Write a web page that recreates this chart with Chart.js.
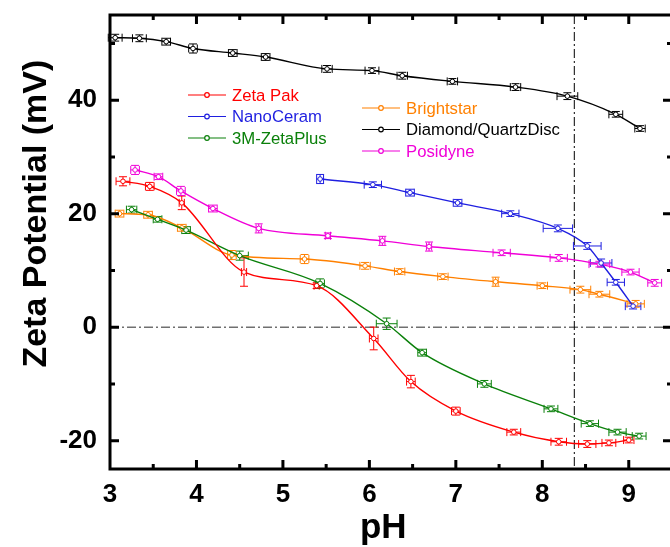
<!DOCTYPE html>
<html>
<head>
<meta charset="utf-8">
<script src="https://cdn.jsdelivr.net/npm/chart.js@4.4.0/dist/chart.umd.min.js"></script>
<style>
html, body { margin: 0; padding: 0; background: #fff; overflow: hidden; width: 670px; height: 547px; }
#wrap { width: 680px; height: 547px; }
</style>
</head>
<body>
<div id="wrap"><canvas id="zetaChart" width="680" height="547"></canvas></div>
<script>
const FONT = '"Liberation Sans", Arial, sans-serif'

const xTicks = [3, 4, 5, 6, 7, 8, 9]
const yTicks = [-20, 0, 20, 40]

// Zeta Pak
const zetaPakPH = [3.15, 3.46, 3.83, 4.55, 5.39, 6.05, 6.48, 7.0, 7.67, 8.19, 8.52, 8.77, 9.0]
const zetaPakMV = [25.7, 24.8, 21.9, 9.7, 7.3, -2.0, -9.6, -14.8, -18.5, -20.2, -20.6, -20.4, -19.9]
const zetaPakPHErr = [0.08, 0.05, 0.03, 0.03, 0.03, 0.05, 0.05, 0.05, 0.08, 0.09, 0.1, 0.08, 0.06]
const zetaPakMVErr = [0.8, 0.7, 1.2, 2.5, 0.5, 2.0, 1.1, 0.7, 0.5, 0.6, 0.6, 0.5, 0.5]

// NanoCeram
const nanoPH = [5.43, 6.04, 6.47, 7.02, 7.63, 8.18, 8.52, 8.68, 8.85, 9.05]
const nanoMV = [26.1, 25.1, 23.7, 21.9, 20.0, 17.4, 14.3, 11.3, 7.9, 3.7]
const nanoPHErr = [0.04, 0.1, 0.05, 0.05, 0.1, 0.17, 0.16, 0.125, 0.1, 0.09]
const nanoMVErr = [0.8, 0.5, 0.6, 0.6, 0.5, 0.6, 0.6, 0.7, 0.5, 0.5]

// 3M-ZetaPlus
const zetaPlusPH = [3.25, 3.55, 3.88, 4.5, 5.43, 6.2, 6.61, 7.33, 8.1, 8.55, 8.87, 9.12]
const zetaPlusMV = [20.7, 19.0, 17.1, 12.6, 7.7, 0.6, -4.5, -10.0, -14.4, -17.0, -18.5, -19.2]
const zetaPlusPHErr = [0.06, 0.05, 0.05, 0.1, 0.05, 0.12, 0.05, 0.08, 0.08, 0.1, 0.1, 0.08]
const zetaPlusMVErr = [0.6, 0.5, 0.6, 0.8, 0.8, 1.0, 0.6, 0.6, 0.5, 0.5, 0.5, 0.5]

// Brightstar
const brightPH = [3.11, 3.44, 3.83, 4.41, 5.25, 5.95, 6.35, 6.85, 7.46, 8.0, 8.44, 8.66, 9.08]
const brightMV = [20.0, 19.8, 17.5, 12.7, 12.0, 10.8, 9.8, 8.9, 8.0, 7.3, 6.6, 5.8, 4.1]
const brightPHErr = [0.05, 0.05, 0.05, 0.05, 0.05, 0.06, 0.06, 0.06, 0.03, 0.06, 0.12, 0.12, 0.1]
const brightMVErr = [0.6, 0.6, 0.6, 0.8, 0.8, 0.6, 0.5, 0.5, 0.8, 0.5, 0.6, 0.5, 0.6]

// Diamond/QuartzDisc
const diamondPH = [3.06, 3.34, 3.65, 3.96, 4.42, 4.8, 5.51, 6.03, 6.38, 6.96, 7.69, 8.29, 8.85, 9.13]
const diamondMV = [51.0, 50.9, 50.3, 49.1, 48.3, 47.6, 45.5, 45.2, 44.3, 43.3, 42.3, 40.7, 37.5, 35.0]
const diamondPHErr = [0.08, 0.08, 0.05, 0.05, 0.05, 0.05, 0.06, 0.08, 0.06, 0.06, 0.06, 0.12, 0.08, 0.06]
const diamondMVErr = [0.6, 0.6, 0.6, 0.8, 0.6, 0.6, 0.6, 0.5, 0.6, 0.5, 0.6, 0.6, 0.5, 0.5]

// Posidyne
const posidynePH = [3.29, 3.56, 3.82, 4.19, 4.72, 5.52, 6.15, 6.69, 7.53, 8.19, 8.66, 9.02, 9.3]
const posidyneMV = [27.7, 26.5, 24.0, 20.9, 17.4, 16.1, 15.2, 14.2, 13.1, 12.2, 11.1, 9.7, 7.8]
const posidynePHErr = [0.05, 0.05, 0.05, 0.05, 0.03, 0.03, 0.03, 0.03, 0.1, 0.1, 0.12, 0.1, 0.08]
const posidyneMVErr = [0.8, 0.5, 0.8, 0.6, 0.8, 0.5, 0.8, 0.8, 0.5, 0.6, 0.5, 0.5, 0.6]

const isoelectricPH = 8.37

const series = [
    { label: 'Zeta Pak', color: '#ff0000', x: zetaPakPH, y: zetaPakMV, xe: zetaPakPHErr, ye: zetaPakMVErr },
    { label: 'NanoCeram', color: '#1f1fe0', x: nanoPH, y: nanoMV, xe: nanoPHErr, ye: nanoMVErr },
    { label: '3M-ZetaPlus', color: '#0a800a', x: zetaPlusPH, y: zetaPlusMV, xe: zetaPlusPHErr, ye: zetaPlusMVErr },
    { label: 'Brightstar', color: '#ff8000', x: brightPH, y: brightMV, xe: brightPHErr, ye: brightMVErr },
    { label: 'Diamond/QuartzDisc', color: '#000000', x: diamondPH, y: diamondMV, xe: diamondPHErr, ye: diamondMVErr },
    { label: 'Posidyne', color: '#f000d8', x: posidynePH, y: posidyneMV, xe: posidynePHErr, ye: posidyneMVErr },
]

// error bars, drawn under the markers
const errorBars = {
    id: 'errorBars',
    beforeDatasetsDraw(chart) {
        const { ctx, scales: { x, y } } = chart
        ctx.save()
        ctx.lineWidth = 1
        series.forEach(s => {
            ctx.strokeStyle = s.color
            s.x.forEach((px, i) => {
                const cx = x.getPixelForValue(px), cy = y.getPixelForValue(s.y[i])
                const x0 = x.getPixelForValue(px - s.xe[i]), x1 = x.getPixelForValue(px + s.xe[i])
                const y0 = y.getPixelForValue(s.y[i] - s.ye[i]), y1 = y.getPixelForValue(s.y[i] + s.ye[i])
                ctx.beginPath()
                ctx.moveTo(x0, cy); ctx.lineTo(x1, cy)
                ctx.moveTo(x0, cy - 4); ctx.lineTo(x0, cy + 4)
                ctx.moveTo(x1, cy - 4); ctx.lineTo(x1, cy + 4)
                ctx.moveTo(cx, y0); ctx.lineTo(cx, y1)
                ctx.moveTo(cx - 4, y0); ctx.lineTo(cx + 4, y0)
                ctx.moveTo(cx - 4, y1); ctx.lineTo(cx + 4, y1)
                ctx.stroke()
            })
        })
        ctx.restore()
    }
}

// dash-dot reference lines at 0 mV and at the isoelectric pH
const refLines = {
    id: 'refLines',
    beforeDatasetsDraw(chart) {
        const { ctx, chartArea: a, scales: { x, y } } = chart
        ctx.save()
        ctx.setLineDash([9, 3, 2, 3])
        ctx.lineWidth = 1.5
        ctx.strokeStyle = '#707070'
        const y0 = y.getPixelForValue(0)
        ctx.beginPath(); ctx.moveTo(a.left, y0); ctx.lineTo(a.right, y0); ctx.stroke()
        ctx.lineWidth = 1
        ctx.strokeStyle = '#000'
        const xv = x.getPixelForValue(isoelectricPH)
        ctx.beginPath(); ctx.moveTo(xv, a.top); ctx.lineTo(xv, a.bottom); ctx.stroke()
        ctx.restore()
    }
}

// box frame with inward ticks on all four sides, plus the axis titles
const frame = {
    id: 'frame',
    afterDatasetsDraw(chart) {
        const { ctx, chartArea: a, scales: { x, y } } = chart
        ctx.save()
        ctx.strokeStyle = '#000'
        ctx.lineWidth = 3
        ctx.strokeRect(a.left, a.top, a.right - a.left, a.bottom - a.top)
        ctx.beginPath()
        for (let v = 3.5; v < 9.5; v += 0.5) {
            const p = x.getPixelForValue(v)
            const len = Number.isInteger(v) ? 9 : 5
            ctx.moveTo(p, a.bottom); ctx.lineTo(p, a.bottom - len)
            ctx.moveTo(p, a.top); ctx.lineTo(p, a.top + len)
        }
        for (let v = -20; v <= 50; v += 10) {
            const p = y.getPixelForValue(v)
            const len = v % 20 === 0 ? 9 : 5
            ctx.moveTo(a.left, p); ctx.lineTo(a.left + len, p)
            ctx.moveTo(a.right, p); ctx.lineTo(a.right - len, p)
        }
        ctx.stroke()

        ctx.fillStyle = '#000'
        ctx.textAlign = 'center'
        ctx.textBaseline = 'alphabetic'
        ctx.font = 'bold 35px ' + FONT
        ctx.fillText('pH', x.getPixelForValue(6.16), 538)
        ctx.translate(46, y.getPixelForValue(20))
        ctx.rotate(-Math.PI / 2)
        ctx.font = 'bold 34px ' + FONT
        ctx.fillText('Zeta Potential (mV)', 0, 0)
        ctx.restore()
    }
}

// two-column legend inside the plot
const legendBox = {
    id: 'legendBox',
    afterDraw(chart) {
        const { ctx } = chart
        const cols = [{ x: 188, y: 95, items: [0, 1, 2] }, { x: 362, y: 108, items: [3, 4, 5] }]
        ctx.save()
        ctx.font = '16.7px ' + FONT
        ctx.textBaseline = 'middle'
        cols.forEach(c => {
            c.items.forEach((idx, k) => {
                const s = series[idx]
                const yy = c.y + k * 21.5
                ctx.strokeStyle = s.color
                ctx.lineWidth = 1.2
                ctx.beginPath(); ctx.moveTo(c.x, yy); ctx.lineTo(c.x + 38, yy); ctx.stroke()
                ctx.beginPath(); ctx.arc(c.x + 19, yy, 2.3, 0, Math.PI * 2)
                ctx.fillStyle = '#fff'; ctx.fill(); ctx.stroke()
                ctx.fillStyle = s.color
                ctx.fillText(s.label, c.x + 44, yy + 1)
            })
        })
        ctx.restore()
    }
}

const tickFont = { family: FONT, size: 26, weight: 'bold' }

new Chart(document.getElementById('zetaChart'), {
    type: 'line',
    data: {
        datasets: series.map(s => ({
            label: s.label,
            data: s.x.map((v, i) => ({ x: v, y: s.y[i] })),
            borderColor: s.color,
            pointBorderColor: s.color,
            pointBackgroundColor: '#fff',
            pointRadius: 2.3,
            pointBorderWidth: 1,
            borderWidth: 1.4,
            cubicInterpolationMode: 'monotone',
            fill: false,
        }))
    },
    options: {
        responsive: false,
        animation: false,
        layout: { padding: { top: 15, right: 8, left: 0, bottom: 0 } },
        plugins: {
            legend: { display: false },
            tooltip: { enabled: false },
        },
        scales: {
            x: {
                type: 'linear',
                min: 3,
                max: 9.5,
                afterBuildTicks: s => { s.ticks = xTicks.map(v => ({ value: v })) },
                afterFit: s => { s.height = 78; s.paddingLeft = 0; s.paddingRight = 0 },
                grid: { display: false, drawTicks: false },
                border: { display: false },
                ticks: { color: '#000', font: tickFont, padding: 10, autoSkip: false, maxRotation: 0 },
            },
            y: {
                type: 'linear',
                min: -25,
                max: 55,
                afterBuildTicks: s => { s.ticks = yTicks.map(v => ({ value: v })) },
                afterFit: s => { s.width = 110; s.paddingTop = 0; s.paddingBottom = 0 },
                grid: { display: false, drawTicks: false },
                border: { display: false },
                ticks: { color: '#000', font: tickFont, padding: 13, autoSkip: false },
            }
        }
    },
    plugins: [refLines, errorBars, frame, legendBox]
})
</script>
</body>
</html>
